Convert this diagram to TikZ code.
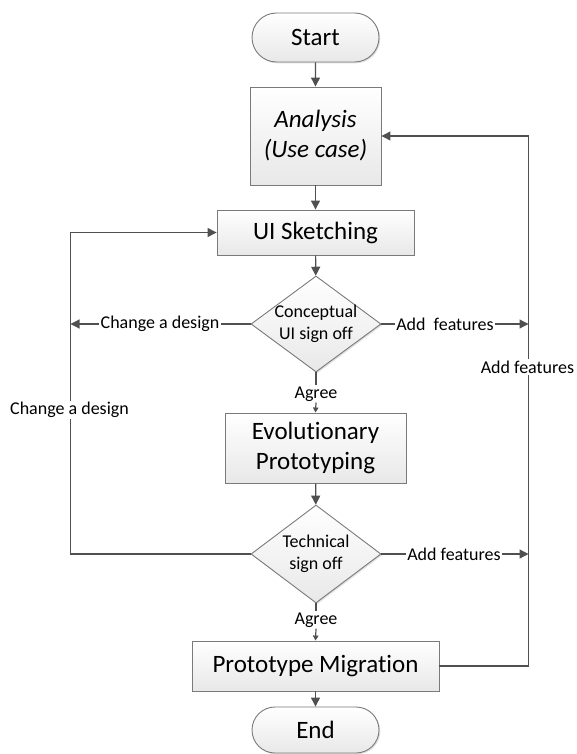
\documentclass[tikz,border=0pt]{standalone}
\usepackage{fontspec}
\setmainfont{Carlito}[Ligatures={NoCommon}]
\usetikzlibrary{shapes.geometric,shapes.misc,arrows.meta,shadows}
\definecolor{linec}{HTML}{505050}
\definecolor{borderc}{HTML}{7A7A7A}
\newcommand{\bigtxt}{\fontsize{25}{30}\selectfont}
\newcommand{\smtxt}{\fontsize{18}{22}\selectfont}
\begin{document}
\begin{tikzpicture}[x=1pt,y=-1pt,
  shape base/.style={draw=borderc, line width=0.9pt, top color=white, bottom color=black!9,
     drop shadow={shadow xshift=1.3pt, shadow yshift=-1.3pt, opacity=0.25}},
  box/.style={shape base, rectangle, inner sep=2pt, align=center, font=\bigtxt, text=black},
  term/.style={shape base, rounded rectangle, minimum width=131pt, inner sep=2pt, font=\bigtxt},
  dia/.style={shape base, diamond, inner sep=0pt, minimum width=130pt},
  diatxt/.style={align=center, font=\smtxt, inner sep=0pt},
  lbl/.style={fill=white, font=\smtxt, inner sep=1.5pt},
  agr/.style={font=\smtxt, inner sep=1pt},
  ln/.style={draw=linec, line width=1.2pt},
  arr/.style={ln, -{Triangle[length=9pt,width=9pt]}},
  arrs/.style={ln, -{Triangle[length=5pt,width=5.5pt]}}
]
\useasboundingbox (0,0) rectangle (576,754);

% nodes
\node[term, minimum height=49pt] (start) at (315.5,37.5) {Start};
\node[box, minimum width=131pt, minimum height=98pt] (analysis) at (315.5,136) {\itshape Analysis\\\itshape (Use case)};
\node[box, minimum width=197pt, minimum height=45pt] (ui) at (315.5,232.5) {UI Sketching};
\node[dia, minimum height=96pt] (d1) at (316,324) {};
\node[diatxt] (d1t) at (316,324) {Conceptual\\UI sign off};
\node[agr] (agree1) at (316,394) {Agree};
\node[box, minimum width=181pt, minimum height=70pt] (evo) at (315.5,448) {Evolutionary\\Prototyping};
\node[dia, minimum height=98pt] (d2) at (316,554) {};
\node[diatxt] (d2t) at (316,554) {Technical\\sign off};
\node[agr] (agree2) at (316,620) {Agree};
\node[box, minimum width=247pt, minimum height=50pt] (pm) at (315.5,666) {Prototype Migrat\kern0pt ion};
\node[term, minimum height=46pt] (end) at (315.5,730) {End};

% helper coordinates
\coordinate (lt1) at (70.5,324);
\coordinate (rt1) at (528.5,324);
\coordinate (lt2) at (70.5,554);
\coordinate (rt2) at (528.5,554);
\coordinate (ltop) at (70.5,232.5);
\coordinate (rtop) at (528.5,136);
\coordinate (rbot) at (528.5,666);

% main flow
\draw[arr] (start) -- (analysis);
\draw[arr] (analysis) -- (ui);
\draw[arr] (ui) -- (d1);
\draw[ln] (d1.south) -- (agree1.north);
\draw[arrs] (agree1.south) -- (evo.north);
\draw[arr] (evo) -- (d2);
\draw[ln] (d2.south) -- (agree2.north);
\draw[arrs] (agree2.south) -- (pm.north);
\draw[arr] (pm) -- (end);

% side branches
\draw[arr] (d1.west) -- (lt1);
\draw[arr] (d1.east) -- (rt1);
\draw[arr] (d2.west) -- (lt2) -- (ltop) -- (ui.west);
\draw[arr] (d2.east) -- (rt2);
\draw[arr] (pm.east) -- (rbot) -- (rtop) -- (analysis.east);

% labels on connectors
\node[lbl] (cd1) at (160,324) {Change a design};
\node[lbl] (af1) at (445,324) {Add\ \ features};
\node[lbl] (af2) at (454,554) {Add features};
\node[lbl] (cd2) at (69.5,410) {Change a design};
\node[lbl] (af3) at (527.5,367) {Add features};
\end{tikzpicture}
\end{document}
